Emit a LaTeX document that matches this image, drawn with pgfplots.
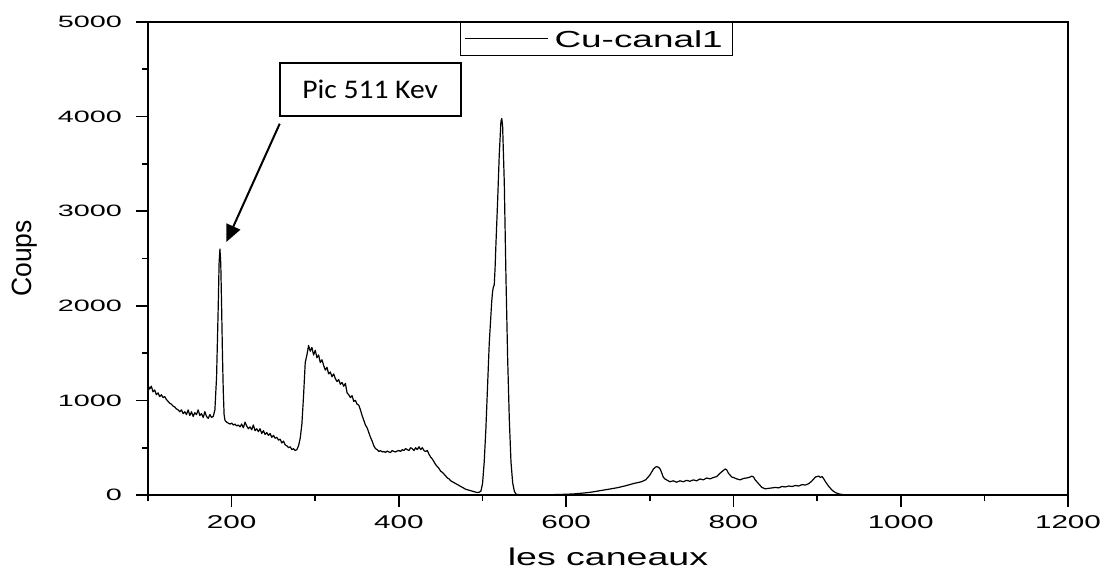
\documentclass[border=0pt]{standalone}
\usepackage{fontspec}
\usepackage{pgfplots}
\pgfplotsset{compat=1.18}
\usetikzlibrary{arrows.meta}
\setmainfont{Liberation Sans}
\newfontfamily\ytickfont[FakeStretch=1.75]{Liberation Sans}
\newfontfamily\xtickfont[FakeStretch=1.6]{Liberation Sans}
\newfontfamily\legfont[FakeStretch=1.59]{Liberation Sans}
\newfontfamily\xlabfont[FakeStretch=1.55]{Liberation Sans}
\newfontfamily\ylabfont[FakeStretch=0.95]{Liberation Sans}
\newfontfamily\annfont[FakeStretch=1.1]{Carlito}

\begin{document}
\begin{tikzpicture}
\begin{axis}[
  name=ax,
  scale only axis,
  width=920bp, height=473bp,
  xmin=100, xmax=1200, ymin=0, ymax=5000,
  xtick={200,400,...,1200},
  minor xtick={100,300,...,1100},
  ytick={0,1000,...,5000},
  minor ytick={500,1500,...,4500},
  tick align=outside,
  xtick pos=bottom, ytick pos=left,
  major tick length=12bp, minor tick length=6bp,
  every tick/.style={black, line width=1.6bp},
  axis line style={line width=1.8bp},
  /pgf/number format/assume math mode=true,
  /pgf/number format/1000 sep={},
  yticklabel style={font=\ytickfont\fontsize{16.5}{18}\selectfont, anchor=east, inner sep=0pt, xshift=-14bp},
  xticklabel style={font=\xtickfont\fontsize{18.6}{20}\selectfont, anchor=north, inner sep=0pt, yshift=-8bp},
  xlabel={les caneaux},
  ylabel={Coups},
  xlabel style={font=\xlabfont\fontsize{24.3}{26}\selectfont, at={(axis description cs:0.5,-0.1495)}, anchor=base, inner sep=0pt},
  ylabel style={font=\ylabfont\fontsize{28}{30}\selectfont, at={(axis description cs:-0.1264,0.5)}, anchor=base, rotate=0, inner sep=0pt},
  legend style={at={(0.4877,1)}, anchor=north, draw=black, line width=0.8bp, inner xsep=4bp, inner ysep=0bp,
    font=\legfont\fontsize{23.3}{26}\selectfont,
    nodes={inner xsep=6bp, inner ysep=8bp, text height=17bp, text depth=0bp}},
  legend image code/.code={\draw[black, line width=1bp] (0bp,0bp) -- (83bp,0bp);},
]
\addplot[black, line width=1.2bp, line join=round] table {
x y
100 1160
102 1120
104 1150
106 1090
108 1110
110 1060
112 1080
114 1040
116 1060
118 1030
120 1040
122 1010
124 990
126 970
128 960
130 940
132 930
134 910
136 900
138 880
140 900
142 860
144 880
146 850
148 900
150 840
152 880
154 830
156 870
158 850
160 900
162 840
164 860
166 820
168 880
170 830
172 810
174 850
176 820
178 830
180 900
182 1250
184 2000
185 2450
186 2600
187 2450
188 2000
189 1500
190 1100
191 850
192 790
194 770
196 760
198 750
200 760
202 740
204 750
206 730
208 740
210 720
212 750
214 710
216 770
218 730
220 700
222 720
224 690
226 740
228 680
230 700
232 670
234 700
236 650
238 680
240 640
242 660
244 630
246 650
248 610
250 630
252 600
254 610
256 580
258 590
260 550
262 570
264 530
266 520
268 500
270 510
272 480
274 490
276 470
278 480
280 520
282 600
284 750
286 1050
288 1400
290 1480
292 1580
294 1520
296 1560
298 1480
300 1530
302 1450
304 1480
306 1400
308 1430
310 1370
312 1320
314 1350
316 1280
318 1300
320 1250
322 1280
324 1230
326 1200
328 1220
330 1170
332 1190
334 1150
336 1180
338 1080
340 1060
342 1030
344 1050
346 990
348 1000
350 960
352 950
354 900
356 840
358 790
360 740
362 710
364 660
366 610
368 570
370 520
372 490
374 480
376 460
378 470
380 455
382 460
384 450
386 465
388 455
390 450
392 470
394 460
396 455
398 465
400 470
402 460
404 480
406 470
408 490
410 480
412 470
414 500
416 490
418 470
420 500
422 480
424 510
426 480
428 500
430 470
432 460
434 470
436 430
438 400
440 380
442 350
444 320
446 300
448 280
450 250
452 240
454 220
456 200
458 180
460 170
462 150
464 140
466 130
468 120
470 110
472 100
474 90
476 80
478 70
480 60
482 55
484 50
486 45
488 40
490 35
492 30
494 25
496 30
498 40
500 120
502 350
504 700
506 1150
508 1600
510 1900
511 2050
512 2150
513 2200
514 2220
515 2400
516 2650
518 3100
520 3600
522 3950
523 3980
524 3900
526 3300
528 2300
530 1450
532 800
534 350
536 130
538 40
540 10
542 5
550 0
560 2
570 0
580 3
590 5
600 8
610 12
620 20
630 30
640 45
650 60
660 75
670 95
680 120
690 140
695 160
700 210
704 270
706 290
708 300
710 295
712 280
714 240
716 190
718 170
720 160
724 140
728 150
732 135
736 150
740 140
744 155
748 145
752 160
756 150
760 170
764 160
768 180
772 170
776 185
780 195
784 230
788 260
790 275
792 265
794 230
796 210
798 190
800 185
804 170
808 160
812 175
816 180
820 190
822 200
824 190
826 160
830 120
834 80
838 65
842 70
846 75
850 80
854 75
858 90
862 85
866 95
870 90
874 100
878 95
882 110
886 105
890 120
894 150
898 190
902 200
904 185
906 195
908 170
910 140
914 90
918 50
922 25
926 12
930 5
935 2
940 0
1000 0
1100 0
1200 0
};
\addlegendentry{Cu-canal1}
\node[draw=black, line width=1.8bp, minimum width=181bp, minimum height=53bp, inner sep=0pt,
      font=\annfont\fontsize{27}{30}\selectfont, fill=white] at (axis cs:365.6,4283) {Pic 511 Kev};
\draw[black, line width=2bp, -{Triangle[length=17bp,width=15bp]}] (axis cs:257.5,3925) -- (axis cs:193.7,2675);
\end{axis}
\pgfresetboundingbox
\path[use as bounding box] ([shift={(-148bp,-76bp)}]ax.south west) rectangle ([shift={(42bp,22bp)}]ax.north east);
\end{tikzpicture}
\end{document}
